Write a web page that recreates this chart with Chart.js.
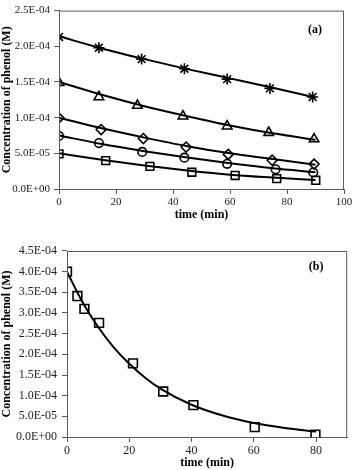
<!DOCTYPE html>
<html>
<head>
<meta charset="utf-8">
<script src="https://cdn.jsdelivr.net/npm/chart.js@4"></script>
<style>
  body { margin: 0; background: #fff; }
  .box { position: absolute; left: 0; width: 355px; }
</style>
</head>
<body>
<div class="box" style="top:0;height:232px"><canvas id="chartA" width="355" height="232"></canvas></div>
<div class="box" style="top:232px;height:238px"><canvas id="chartB" width="355" height="238"></canvas></div>
<script>
// ---- panel (a): measured points ----
const starTime = [0, 14, 29, 44, 59, 74, 89];
const starConc = [2.13e-4, 1.98e-4, 1.82e-4, 1.685e-4, 1.54e-4, 1.41e-4, 1.29e-4];
const triTime = [0, 14, 27.5, 43.5, 59, 73.6, 89.5];
const triConc = [1.49e-4, 1.29e-4, 1.17e-4, 1.02e-4, 0.88e-4, 0.79e-4, 0.70e-4];
const diaTime = [0, 14.8, 29.6, 44.6, 59.4, 74.8, 89.5];
const diaConc = [0.996e-4, 0.833e-4, 0.707e-4, 0.588e-4, 0.485e-4, 0.403e-4, 0.349e-4];
const circTime = [0, 14, 29.2, 44, 59, 76, 89.2];
const circConc = [0.743e-4, 0.643e-4, 0.52e-4, 0.439e-4, 0.353e-4, 0.276e-4, 0.231e-4];
const sqTime = [0, 16.4, 31.9, 46.6, 61.8, 76.4, 90.1];
const sqConc = [0.493e-4, 0.398e-4, 0.317e-4, 0.235e-4, 0.19e-4, 0.145e-4, 0.122e-4];

// ---- panel (a): fitted curves ----
const fitTimeA = [0, 15, 30, 45, 60, 75, 90];
const fitStar = [2.14e-4, 1.97e-4, 1.82e-4, 1.68e-4, 1.55e-4, 1.42e-4, 1.28e-4];
const fitTri = [1.50e-4, 1.32e-4, 1.16e-4, 1.02e-4, 0.89e-4, 0.78e-4, 0.69e-4];
const fitDia = [1.0e-4, 0.85e-4, 0.72e-4, 0.60e-4, 0.50e-4, 0.42e-4, 0.34e-4];
const fitCirc = [0.75e-4, 0.63e-4, 0.53e-4, 0.44e-4, 0.36e-4, 0.29e-4, 0.235e-4];
const fitSq = [0.50e-4, 0.41e-4, 0.33e-4, 0.26e-4, 0.20e-4, 0.16e-4, 0.125e-4];

// ---- panel (b) ----
const bTime = [0, 3.35, 5.6, 10.3, 21.2, 30.9, 40.6, 60.3, 79.8];
const bConc = [4.0e-4, 3.41e-4, 3.1e-4, 2.76e-4, 1.78e-4, 1.10e-4, 0.77e-4, 0.24e-4, 0.056e-4];
const fitTimeB = [0, 5, 10, 15, 20, 25, 30, 40, 50, 60, 70, 80];
const fitB = [4.0e-4, 3.26e-4, 2.66e-4, 2.17e-4, 1.77e-4, 1.44e-4, 1.17e-4, 0.78e-4, 0.52e-4, 0.34e-4, 0.22e-4, 0.13e-4];

// tick labels
const yTicksA = ['0.0E+00', '5.0E-05', '1.0E-04', '1.5E-04', '2.0E-04', '2.5E-04'];
const yTicksB = ['0.0E+00', '5.0E-05', '1.0E-04', '1.5E-04', '2.0E-04', '2.5E-04', '3.0E-04', '3.5E-04', '4.0E-04', '4.5E-04'];

const AXIS = '#595959';
const FONT = 'Liberation Serif';

const pts = (xs, ys) => xs.map((x, i) => ({x: x, y: ys[i]}));

function markers(xs, ys, style, r) {
  return {
    data: pts(xs, ys), showLine: false, pointStyle: style, pointRadius: r,
    pointBorderColor: '#000', pointBackgroundColor: 'rgba(0,0,0,0)', pointBorderWidth: 1.6
  };
}
function curve(xs, ys) {
  return {
    data: pts(xs, ys), showLine: true, borderColor: '#000', borderWidth: 2,
    pointRadius: 0, cubicInterpolationMode: 'monotone'
  };
}

// frame + panel letter
const framePlugin = {
  id: 'frame',
  afterDraw(chart, args, opts) {
    const {ctx, chartArea: a} = chart;
    ctx.save();
    ctx.strokeStyle = AXIS;
    ctx.lineWidth = 1;
    ctx.strokeRect(a.left + 0.5, a.top + 0.5, a.right - a.left - 1, a.bottom - a.top);
    ctx.fillStyle = '#000';
    ctx.font = 'bold 12px "' + FONT + '"';
    ctx.textAlign = 'center';
    ctx.textBaseline = 'middle';
    ctx.fillText(opts.letter, a.right - opts.dx, a.top + opts.dy);
    ctx.restore();
  }
};

function makeOptions(cfg) {
  return {
    responsive: false,
    animation: false,
    layout: {padding: cfg.padding},
    plugins: {legend: {display: false}, tooltip: {enabled: false}, frame: cfg.frame},
    scales: {
      x: {
        type: 'linear', min: 0, max: cfg.xMax,
        afterFit: s => { s.height = cfg.xHeight; },
        ticks: {stepSize: 20, includeBounds: false, padding: 2, color: '#222', font: {family: FONT, size: cfg.tickSize}},
        grid: {drawOnChartArea: false, tickLength: 5, color: AXIS},
        border: {color: AXIS},
        title: {display: true, text: 'time (min)', color: '#000', padding: {top: 0, bottom: cfg.xTitlePad},
                font: {family: FONT, size: 12, weight: 'bold'}}
      },
      y: {
        min: 0, max: cfg.yMax,
        afterFit: s => { s.width = cfg.yWidth; },
        afterBuildTicks: s => { s.ticks = cfg.yLabels.map((l, i) => ({value: i * 5e-5})); },
        ticks: {padding: cfg.yPad, color: '#222', font: {family: FONT, size: cfg.tickSize},
                callback: (v, i) => cfg.yLabels[i]},
        grid: {drawOnChartArea: false, tickLength: 5, color: AXIS},
        border: {color: AXIS},
        title: {display: true, text: 'Concentration of phenol (M)', color: '#000', padding: 0,
                font: {family: FONT, size: 12, weight: 'bold'}}
      }
    }
  };
}

new Chart(document.getElementById('chartA'), {
  type: 'scatter',
  data: {
    datasets: [
      curve(fitTimeA, fitStar), curve(fitTimeA, fitTri), curve(fitTimeA, fitDia),
      curve(fitTimeA, fitCirc), curve(fitTimeA, fitSq),
      markers(starTime, starConc, 'star', 5.5),
      markers(triTime, triConc, 'triangle', 5.5),
      markers(diaTime, diaConc, 'rectRot', 5),
      markers(circTime, circConc, 'circle', 4.3),
      markers(sqTime, sqConc, 'rect', 5.5)
    ]
  },
  options: makeOptions({
    padding: {top: 5, right: 11, left: 0, bottom: 0},
    xMax: 100, xHeight: 43, xTitlePad: 10, yMax: 2.5e-4, yWidth: 59, yPad: 4, yLabels: yTicksA,
    tickSize: 11, frame: {letter: '(a)', dx: 29, dy: 19}
  }),
  plugins: [framePlugin]
});

new Chart(document.getElementById('chartB'), {
  type: 'scatter',
  data: {
    datasets: [
      curve(fitTimeB, fitB),
      markers(bTime, bConc, 'rect', 6.2)
    ]
  },
  options: makeOptions({
    padding: {top: 19, right: 7, left: 0, bottom: 0},
    xMax: 90, xHeight: 33, xTitlePad: 0, yMax: 4.5e-4, yWidth: 67, yPad: 5, yLabels: yTicksB,
    tickSize: 12, frame: {letter: '(b)', dx: 31, dy: 16}
  }),
  plugins: [framePlugin]
});
</script>
</body>
</html>
